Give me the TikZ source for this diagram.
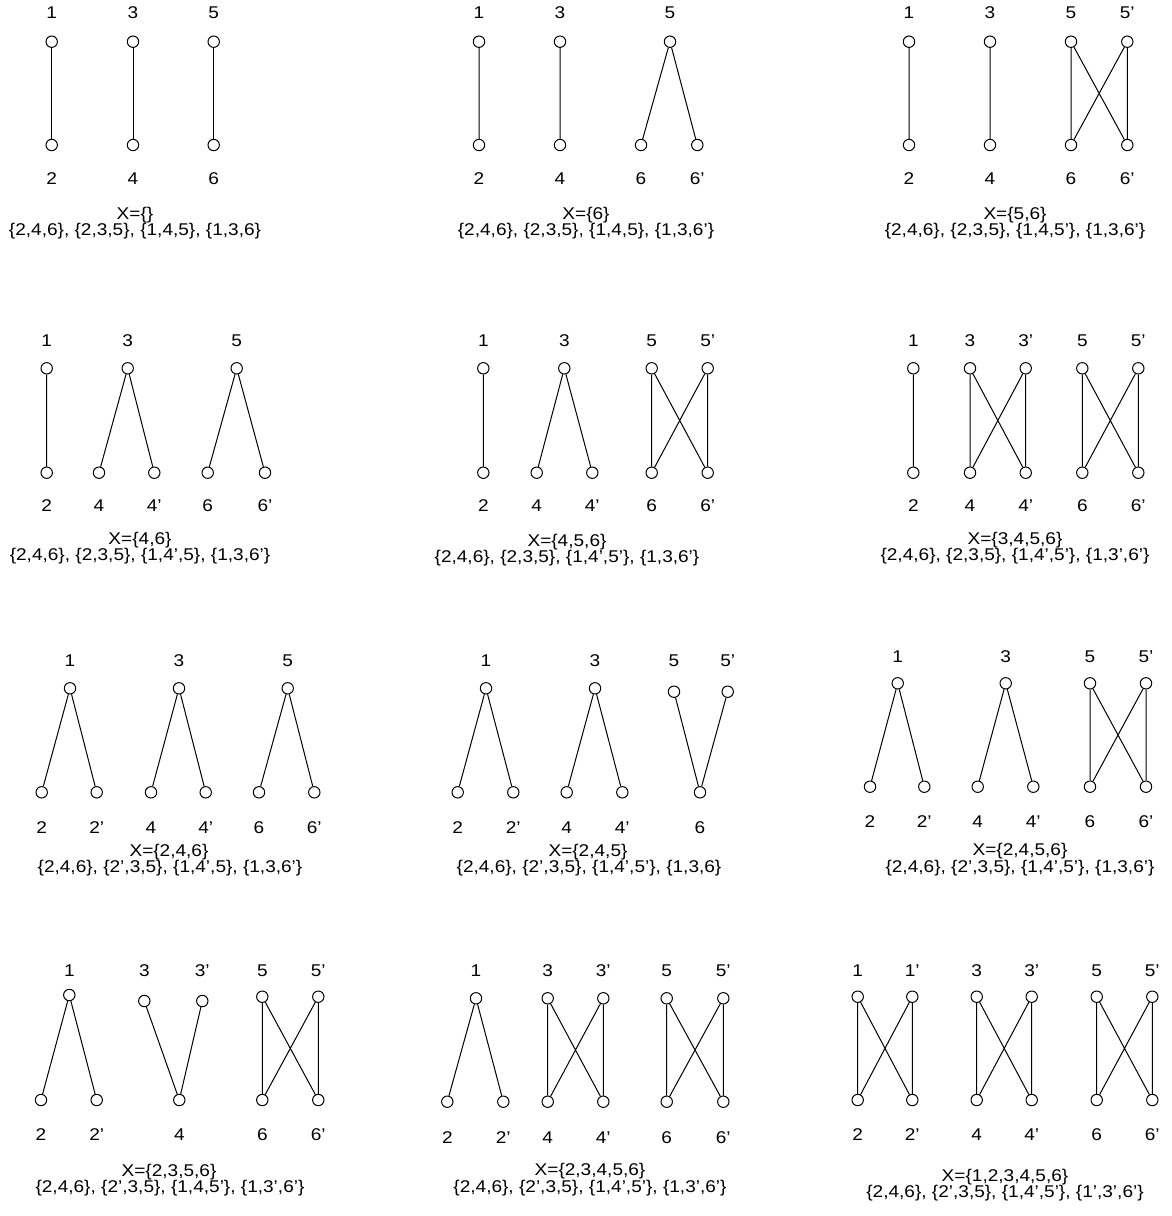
\documentclass[tikz,border=0pt]{standalone}
\usepackage{fontspec}
\setmainfont{Liberation Sans}
\newfontfamily\dgfont[FakeStretch=1.12,Ligatures=TeX]{Liberation Sans}
\begin{document}
\begin{tikzpicture}[x=1pt,y=-1pt,
  vtx/.style={circle, draw, fill=white, inner sep=0pt, minimum size=11.4pt, line width=1pt},
  lbltxt/.style={font=\dgfont\fontsize{17}{19}\selectfont, inner sep=0pt, anchor=base},
  captxt/.style={font=\dgfont\fontsize{17}{19}\selectfont, inner sep=0pt, anchor=base},
  edgeln/.style={line width=1pt}]
\newcommand\Vx[3]{\node[vtx] (#1) at (#2,#3) {};}
\newcommand\Lb[4]{\node[lbltxt] (#1) at (#2,#3) {#4};}
\newcommand\Cp[4]{\node[captxt] (#1) at (#2,#3) {#4};}
\useasboundingbox (0,0) rectangle (1172,1216);
% ---------------- Row 1 ----------------
% panel a
\Vx{a1}{51.7}{41.7} \Vx{a2}{51.7}{145} \Vx{a3}{133}{41.7} \Vx{a4}{133}{145} \Vx{a5}{213.7}{41.7} \Vx{a6}{213.7}{145}
\Lb{la1}{51.7}{18.3}{1} \Lb{la3}{133}{18.3}{3} \Lb{la5}{213.7}{18.3}{5}
\Lb{la2}{51.7}{184.3}{2} \Lb{la4}{133}{184.3}{4} \Lb{la6}{213.7}{184.3}{6}
\draw[edgeln] (a1)--(a2) (a3)--(a4) (a5)--(a6);
\Cp{xa}{135}{219.5}{X=\{\}} \Cp{sa}{135}{235}{\{2,4,6\}, \{2,3,5\}, \{1,4,5\}, \{1,3,6\}}
% panel b
\Vx{b1}{479}{41.7} \Vx{b2}{479}{145} \Vx{b3}{560}{41.7} \Vx{b4}{560}{145} \Vx{b5}{670}{41.7} \Vx{b6}{641}{145} \Vx{b6p}{697.3}{145}
\Lb{lb1}{479}{18.3}{1} \Lb{lb3}{560}{18.3}{3} \Lb{lb5}{670}{18.3}{5}
\Lb{lb2}{479}{184.3}{2} \Lb{lb4}{560}{184.3}{4} \Lb{lb6}{641}{184.3}{6} \Lb{lb6p}{697.3}{184.3}{6'}
\draw[edgeln] (b1)--(b2) (b3)--(b4) (b5)--(b6) (b5)--(b6p);
\Cp{xb}{586}{219.5}{X=\{6\}} \Cp{sb}{586}{235}{\{2,4,6\}, \{2,3,5\}, \{1,4,5\}, \{1,3,6'\}}
% panel c
\Vx{c1}{909}{41.7} \Vx{c2}{909}{145} \Vx{c3}{990}{41.7} \Vx{c4}{990}{145}
\Vx{c5}{1071}{41.7} \Vx{c6}{1071}{145} \Vx{c5p}{1127.3}{41.7} \Vx{c6p}{1127.3}{145}
\Lb{lc1}{909}{18.3}{1} \Lb{lc3}{990}{18.3}{3} \Lb{lc5}{1071}{18.3}{5} \Lb{lc5p}{1127.3}{18.3}{5'}
\Lb{lc2}{909}{184.3}{2} \Lb{lc4}{990}{184.3}{4} \Lb{lc6}{1071}{184.3}{6} \Lb{lc6p}{1127.3}{184.3}{6'}
\draw[edgeln] (c1)--(c2) (c3)--(c4) (c5)--(c6) (c5p)--(c6p) (c5)--(c6p) (c5p)--(c6);
\Cp{xc}{1015}{219.5}{X=\{5,6\}} \Cp{sc}{1015}{235}{\{2,4,6\}, \{2,3,5\}, \{1,4,5'\}, \{1,3,6'\}}
% ---------------- Row 2 ----------------
% panel d
\Vx{d1}{46.7}{368.3} \Vx{d2}{46.7}{472.7} \Vx{d3}{127.7}{368.3} \Vx{d4}{99}{472.7} \Vx{d4p}{154.3}{472.7}
\Vx{d5}{236.7}{368.3} \Vx{d6}{207.7}{472.7} \Vx{d6p}{265}{472.7}
\Lb{ld1}{46.7}{346}{1} \Lb{ld3}{127.7}{346}{3} \Lb{ld5}{236.7}{346}{5}
\Lb{ld2}{46.7}{511.7}{2} \Lb{ld4}{99}{511.7}{4} \Lb{ld4p}{154.3}{511.7}{4'} \Lb{ld6}{207.7}{511.7}{6} \Lb{ld6p}{265}{511.7}{6'}
\draw[edgeln] (d1)--(d2) (d3)--(d4) (d3)--(d4p) (d5)--(d6) (d5)--(d6p);
\Cp{xd}{140}{544.5}{X=\{4,6\}} \Cp{sd}{140}{560.7}{\{2,4,6\}, \{2,3,5\}, \{1,4',5\}, \{1,3,6'\}}
% panel e
\Vx{e1}{483.3}{368.3} \Vx{e2}{483.3}{472.7} \Vx{e3}{564.3}{368.3} \Vx{e4}{536.7}{472.7} \Vx{e4p}{592.3}{472.7}
\Vx{e5}{651.7}{368.3} \Vx{e6}{651.7}{472.7} \Vx{e5p}{707.7}{368.3} \Vx{e6p}{707.7}{472.7}
\Lb{le1}{483.3}{346}{1} \Lb{le3}{564.3}{346}{3} \Lb{le5}{651.7}{346}{5} \Lb{le5p}{707.7}{346}{5'}
\Lb{le2}{483.3}{511.7}{2} \Lb{le4}{536.7}{511.7}{4} \Lb{le4p}{592.3}{511.7}{4'} \Lb{le6}{651.7}{511.7}{6} \Lb{le6p}{707.7}{511.7}{6'}
\draw[edgeln] (e1)--(e2) (e3)--(e4) (e3)--(e4p) (e5)--(e6) (e5p)--(e6p) (e5)--(e6p) (e5p)--(e6);
\Cp{xe}{567}{546.5}{X=\{4,5,6\}} \Cp{se}{567}{562.5}{\{2,4,6\}, \{2,3,5\}, \{1,4',5'\}, \{1,3,6'\}}
% panel f
\Vx{f1}{913.3}{368.3} \Vx{f2}{913.3}{472.7} \Vx{f3}{970}{368.3} \Vx{f4}{970}{472.7} \Vx{f3p}{1025.7}{368.3} \Vx{f4p}{1025.7}{472.7}
\Vx{f5}{1082.3}{368.3} \Vx{f6}{1082.3}{472.7} \Vx{f5p}{1138.3}{368.3} \Vx{f6p}{1138.3}{472.7}
\Lb{lf1}{913.3}{346}{1} \Lb{lf3}{970}{346}{3} \Lb{lf3p}{1025.7}{346}{3'} \Lb{lf5}{1082.3}{346}{5} \Lb{lf5p}{1138.3}{346}{5'}
\Lb{lf2}{913.3}{511.7}{2} \Lb{lf4}{970}{511.7}{4} \Lb{lf4p}{1025.7}{511.7}{4'} \Lb{lf6}{1082.3}{511.7}{6} \Lb{lf6p}{1138.3}{511.7}{6'}
\draw[edgeln] (f1)--(f2) (f3)--(f4) (f3p)--(f4p) (f3)--(f4p) (f3p)--(f4) (f5)--(f6) (f5p)--(f6p) (f5)--(f6p) (f5p)--(f6);
\Cp{xf}{1015}{544.5}{X=\{3,4,5,6\}} \Cp{sf}{1015}{560.7}{\{2,4,6\}, \{2,3,5\}, \{1,4',5'\}, \{1,3',6'\}}
% ---------------- Row 3 ----------------
% panel g
\Vx{g1}{70}{688.3} \Vx{g2}{41.7}{792.3} \Vx{g2p}{96.7}{792.3} \Vx{g3}{179}{688.3} \Vx{g4}{151}{792.3} \Vx{g4p}{205.7}{792.3}
\Vx{g5}{287.7}{688.3} \Vx{g6}{259}{792.3} \Vx{g6p}{314.3}{792.3}
\Lb{lg1}{70}{666}{1} \Lb{lg3}{179}{666}{3} \Lb{lg5}{287.7}{666}{5}
\Lb{lg2}{41.7}{833.3}{2} \Lb{lg2p}{96.7}{833.3}{2'} \Lb{lg4}{151}{833.3}{4} \Lb{lg4p}{205.7}{833.3}{4'} \Lb{lg6}{259}{833.3}{6} \Lb{lg6p}{314.3}{833.3}{6'}
\draw[edgeln] (g1)--(g2) (g1)--(g2p) (g3)--(g4) (g3)--(g4p) (g5)--(g6) (g5)--(g6p);
\Cp{xg}{169}{856.2}{X=\{2,4,6\}} \Cp{sg}{170}{872.7}{\{2,4,6\}, \{2',3,5\}, \{1,4',5\}, \{1,3,6'\}}
% panel h
\Vx{h1}{486}{688.3} \Vx{h2}{457.7}{792.3} \Vx{h2p}{513.3}{792.3} \Vx{h3}{595}{688.3} \Vx{h4}{566.7}{792.3} \Vx{h4p}{622.3}{792.3}
\Vx{h5}{674}{691.7} \Vx{h5p}{727.7}{691.7} \Vx{h6}{700}{792.3}
\Lb{lh1}{486}{666}{1} \Lb{lh3}{595}{666}{3} \Lb{lh5}{674}{666}{5} \Lb{lh5p}{727.7}{666}{5'}
\Lb{lh2}{457.7}{833.3}{2} \Lb{lh2p}{513.3}{833.3}{2'} \Lb{lh4}{566.7}{833.3}{4} \Lb{lh4p}{622.3}{833.3}{4'} \Lb{lh6}{700}{833.3}{6}
\draw[edgeln] (h1)--(h2) (h1)--(h2p) (h3)--(h4) (h3)--(h4p) (h5)--(h6) (h5p)--(h6);
\Cp{xh}{588}{856.2}{X=\{2,4,5\}} \Cp{sh}{589}{872.7}{\{2,4,6\}, \{2',3,5\}, \{1,4',5'\}, \{1,3,6\}}
% panel i
\Vx{i1}{897.7}{683.3} \Vx{i2}{870}{786.7} \Vx{i2p}{924.3}{786.7} \Vx{i3}{1005.7}{683.3} \Vx{i4}{977.7}{786.7} \Vx{i4p}{1033.3}{786.7}
\Vx{i5}{1090}{683.3} \Vx{i6}{1090}{786.7} \Vx{i5p}{1146}{683.3} \Vx{i6p}{1146}{786.7}
\Lb{li1}{897.7}{662.3}{1} \Lb{li3}{1005.7}{662.3}{3} \Lb{li5}{1090}{662.3}{5} \Lb{li5p}{1146}{662.3}{5'}
\Lb{li2}{870}{827.7}{2} \Lb{li2p}{924.3}{827.7}{2'} \Lb{li4}{977.7}{827.7}{4} \Lb{li4p}{1033.3}{827.7}{4'} \Lb{li6}{1090}{827.7}{6} \Lb{li6p}{1146}{827.7}{6'}
\draw[edgeln] (i1)--(i2) (i1)--(i2p) (i3)--(i4) (i3)--(i4p) (i5)--(i6) (i5p)--(i6p) (i5)--(i6p) (i5p)--(i6);
\Cp{xi}{1020}{855.7}{X=\{2,4,5,6\}} \Cp{si}{1020}{872.7}{\{2,4,6\}, \{2',3,5\}, \{1,4',5'\}, \{1,3,6'\}}
% ---------------- Row 4 ----------------
% panel j
\Vx{j1}{69.3}{995} \Vx{j2}{41}{1100} \Vx{j2p}{96.7}{1100} \Vx{j3}{144.3}{1001} \Vx{j3p}{202.3}{1001} \Vx{j4}{179.3}{1100}
\Vx{j5}{262.3}{996.7} \Vx{j6}{262.3}{1100} \Vx{j5p}{318.3}{996.7} \Vx{j6p}{318.3}{1100}
\Lb{lj1}{69.3}{976}{1} \Lb{lj3}{144.3}{976}{3} \Lb{lj3p}{202.3}{976}{3'} \Lb{lj5}{262.3}{976}{5} \Lb{lj5p}{318.3}{976}{5'}
\Lb{lj2}{41}{1140}{2} \Lb{lj2p}{96.7}{1140}{2'} \Lb{lj4}{179.3}{1140}{4} \Lb{lj6}{262.3}{1140}{6} \Lb{lj6p}{318.3}{1140}{6'}
\draw[edgeln] (j1)--(j2) (j1)--(j2p) (j3)--(j4) (j3p)--(j4) (j5)--(j6) (j5p)--(j6p) (j5)--(j6p) (j5p)--(j6);
\Cp{xj}{169}{1176.2}{X=\{2,3,5,6\}} \Cp{sj}{170}{1192.7}{\{2,4,6\}, \{2',3,5\}, \{1,4,5'\}, \{1,3',6'\}}
% panel k
\Vx{k1}{476}{998.3} \Vx{k2}{447.3}{1101.7} \Vx{k2p}{503.3}{1101.7} \Vx{k3}{547.7}{998.3} \Vx{k4}{547.7}{1101.7} \Vx{k3p}{603.3}{998.3} \Vx{k4p}{603.3}{1101.7}
\Vx{k5}{666.7}{998.3} \Vx{k6}{666.7}{1101.7} \Vx{k5p}{723.3}{998.3} \Vx{k6p}{723.3}{1101.7}
\Lb{lk1}{476}{976}{1} \Lb{lk3}{547.7}{976}{3} \Lb{lk3p}{603.3}{976}{3'} \Lb{lk5}{666.7}{976}{5} \Lb{lk5p}{723.3}{976}{5'}
\Lb{lk2}{447.3}{1143.3}{2} \Lb{lk2p}{503.3}{1143.3}{2'} \Lb{lk4}{547.7}{1143.3}{4} \Lb{lk4p}{603.3}{1143.3}{4'} \Lb{lk6}{666.7}{1143.3}{6} \Lb{lk6p}{723.3}{1143.3}{6'}
\draw[edgeln] (k1)--(k2) (k1)--(k2p) (k3)--(k4) (k3p)--(k4p) (k3)--(k4p) (k3p)--(k4) (k5)--(k6) (k5p)--(k6p) (k5)--(k6p) (k5p)--(k6);
\Cp{xk}{590}{1175.5}{X=\{2,3,4,5,6\}} \Cp{sk}{590}{1192}{\{2,4,6\}, \{2',3,5\}, \{1,4',5'\}, \{1,3',6'\}}
% panel l
\Vx{l1}{857.7}{996.7} \Vx{l2}{857.7}{1100} \Vx{l1p}{912.3}{996.7} \Vx{l2p}{912.3}{1100}
\Vx{l3}{976.7}{996.7} \Vx{l4}{976.7}{1100} \Vx{l3p}{1031.7}{996.7} \Vx{l4p}{1031.7}{1100}
\Vx{l5}{1096.7}{996.7} \Vx{l6}{1096.7}{1100} \Vx{l5p}{1152.3}{996.7} \Vx{l6p}{1152.3}{1100}
\Lb{ll1}{857.7}{976}{1} \Lb{ll1p}{912.3}{976}{1'} \Lb{ll3}{976.7}{976}{3} \Lb{ll3p}{1031.7}{976}{3'} \Lb{ll5}{1096.7}{976}{5} \Lb{ll5p}{1152.3}{976}{5'}
\Lb{ll2}{857.7}{1140}{2} \Lb{ll2p}{912.3}{1140}{2'} \Lb{ll4}{976.7}{1140}{4} \Lb{ll4p}{1031.7}{1140}{4'} \Lb{ll6}{1096.7}{1140}{6} \Lb{ll6p}{1152.3}{1140}{6'}
\draw[edgeln] (l1)--(l2) (l1p)--(l2p) (l1)--(l2p) (l1p)--(l2) (l3)--(l4) (l3p)--(l4p) (l3)--(l4p) (l3p)--(l4) (l5)--(l6) (l5p)--(l6p) (l5)--(l6p) (l5p)--(l6);
\Cp{xl}{1005}{1181.2}{X=\{1,2,3,4,5,6\}} \Cp{sl}{1005}{1197.7}{\{2,4,6\}, \{2',3,5\}, \{1,4',5'\}, \{1',3',6'\}}
\end{tikzpicture}
\end{document}
